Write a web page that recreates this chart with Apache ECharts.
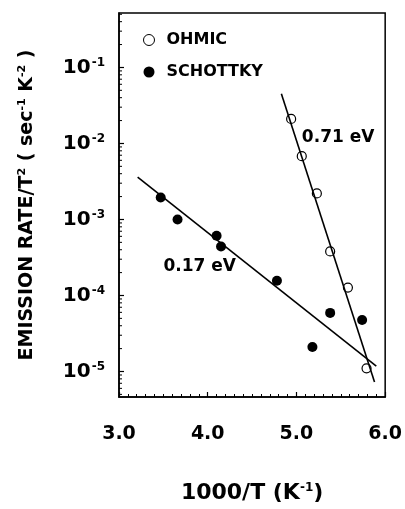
<!DOCTYPE html>
<html><head><meta charset="utf-8">
<script src="https://cdn.jsdelivr.net/npm/echarts@6/dist/echarts.min.js"></script>
<style>html,body{margin:0;padding:0;background:#fff}#c{width:405px;height:509px}</style>
</head><body><div id="c"></div>
<script>
// ---- data ----
const ohmicX = [4.94, 5.06, 5.23, 5.38, 5.58, 5.79];
const ohmicY = [2.1e-2, 6.8e-3, 2.2e-3, 3.8e-4, 1.27e-4, 1.1e-5];
const schottkyX = [3.47, 3.66, 4.10, 4.15, 4.78, 5.18, 5.38, 5.74];
const schottkyY = [1.95e-3, 1.0e-3, 6.1e-4, 4.4e-4, 1.56e-4, 2.1e-5, 5.9e-5, 4.75e-5];
const fit071X = [4.83, 5.88];
const fit071Y = [4.5e-2, 7.3e-6];
const fit017X = [3.21, 5.90];
const fit017Y = [3.6e-3, 1.18e-5];
const annotText = ['0.71 eV', '0.17 eV'];
const annotX = [5.47, 3.91];
const annotY = [1.19e-2, 2.37e-4];
const xTickLabels = ['3.0', '4.0', '5.0', '6.0'];
const xMin = 3, xMax = 6;
const yMin = 4.62e-6, yMax = 0.52;

const zip = (a, b) => a.map((v, i) => [v, b[i]]);
const minorY = [];
for (let k = -6; k <= -1; k++) for (let m = 2; m <= 9; m++) {
  const v = m * Math.pow(10, k);
  if (v > yMin && v < yMax) minorY.push(v);
}
const FONT = '"DejaVu Sans", sans-serif';

const chart = echarts.init(document.getElementById('c'), null, {renderer: 'canvas'});
chart.setOption({
  animation: false,
  backgroundColor: '#fff',
  grid: {left: 119, right: 18, top: 13, bottom: 106, show: true, borderColor: '#000', borderWidth: 1.5},
  legend: {
    orient: 'vertical', left: 138, top: 26, itemWidth: 11, itemHeight: 11, itemGap: 14,
    textStyle: {fontFamily: FONT, fontWeight: 'bold', fontSize: 16, color: '#000', lineHeight: 18, padding: [0, 0, 0, 7]},
    data: [
      {name: 'OHMIC', icon: 'circle', itemStyle: {color: '#fff', borderColor: '#000', borderWidth: 1}},
      {name: 'SCHOTTKY', icon: 'circle', itemStyle: {color: '#000', borderWidth: 0}}
    ]
  },
  xAxis: {
    type: 'value', min: xMin, max: xMax, interval: 1,
    axisLine: {show: true, lineStyle: {color: '#000', width: 1.5}},
    axisTick: {show: true, inside: true, length: 5, lineStyle: {color: '#000', width: 1.2}},
    minorTick: {show: true, splitNumber: 10, length: 3, lineStyle: {color: '#000', width: 1}},
    splitLine: {show: false},
    axisLabel: {
      margin: 28, fontFamily: FONT, fontWeight: 'bold', fontSize: 19, color: '#000',
      formatter: v => xTickLabels[Math.round(v - xMin)]
    },
    name: '1000/T (K{s|-1})', nameLocation: 'middle', nameGap: 85,
    nameTextStyle: {fontFamily: FONT, fontWeight: 'bold', fontSize: 22, color: '#000',
      rich: {s: {fontFamily: FONT, fontWeight: 'bold', fontSize: 12, color: '#000', padding: [0, 0, 10, 0]}}}
  },
  yAxis: {
    type: 'log', logBase: 10, min: yMin, max: yMax, splitNumber: 5,
    axisLine: {show: true, lineStyle: {color: '#000', width: 1.5}},
    axisTick: {show: true, inside: true, length: 5, lineStyle: {color: '#000', width: 1.2}},
    splitLine: {show: false},
    axisLabel: {
      margin: 14, fontFamily: FONT, fontWeight: 'bold', fontSize: 20, color: '#000',
      showMinLabel: false, showMaxLabel: false,
      formatter: v => {
        const l = Math.log10(v), r = Math.round(l);
        if (Math.abs(l - r) > 1e-6) return '';
        return '{b|10}{s|' + r + '}';
      },
      rich: {
        b: {fontFamily: FONT, fontWeight: 'bold', fontSize: 20, color: '#000'},
        s: {fontFamily: FONT, fontWeight: 'bold', fontSize: 12, color: '#000', padding: [0, 0, 10, 1]}
      }
    },
    name: 'EMISSION RATE/T{s|2} ( sec{s|-1} K{s|-2} )', nameLocation: 'middle', nameGap: 82, nameRotate: 90,
    nameTextStyle: {fontFamily: FONT, fontWeight: 'bold', fontSize: 19, color: '#000',
      rich: {s: {fontFamily: FONT, fontWeight: 'bold', fontSize: 11, color: '#000', padding: [0, 0, 9, 0]}}}
  },
  series: [
    {
      type: 'custom', name: 'minorY', silent: true, z: 1,
      data: minorY.map(v => [xMin, v]),
      renderItem: (params, api) => {
        const p = api.coord([api.value(0), api.value(1)]);
        return {type: 'line', shape: {x1: p[0], y1: p[1], x2: p[0] + 3, y2: p[1]},
          style: {stroke: '#000', lineWidth: 1}};
      }
    },
    {type: 'line', name: 'fit071', data: zip(fit071X, fit071Y), showSymbol: false, symbol: 'none',
     lineStyle: {color: '#000', width: 1.6}, z: 3, silent: true},
    {type: 'line', name: 'fit017', data: zip(fit017X, fit017Y), showSymbol: false, symbol: 'none',
     lineStyle: {color: '#000', width: 1.6}, z: 3, silent: true},
    {type: 'scatter', name: 'OHMIC', data: zip(ohmicX, ohmicY), symbol: 'circle', symbolSize: 9,
     itemStyle: {color: 'rgba(255,255,255,0)', borderColor: '#000', borderWidth: 1.2, opacity: 1}, z: 4},
    {type: 'scatter', name: 'SCHOTTKY', data: zip(schottkyX, schottkyY), symbol: 'circle', symbolSize: 10,
     itemStyle: {color: '#000', opacity: 1}, z: 4},
    {type: 'scatter', name: 'annot', data: annotX.map((x, i) => [x, annotY[i], annotText[i]]),
     symbolSize: 0, silent: true, z: 5, itemStyle: {opacity: 1},
     label: {show: true, position: 'inside', formatter: p => p.data[2],
       fontFamily: FONT, fontWeight: 'bold', fontSize: 17, color: '#000', opacity: 1}}
  ]
});
</script></body></html>
